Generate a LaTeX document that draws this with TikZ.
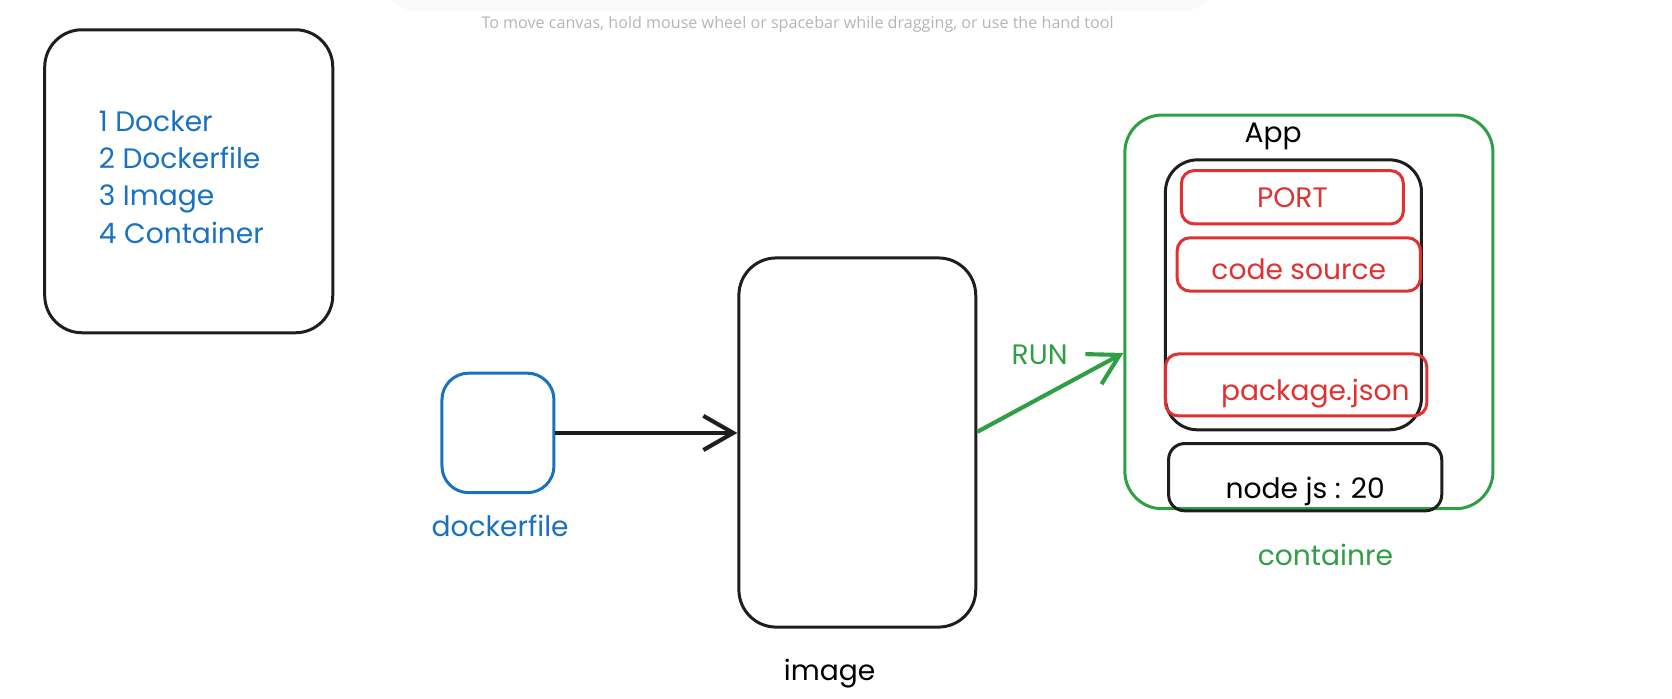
\documentclass[tikz,border=0pt]{standalone}
\usepackage{fontspec}
\setmainfont{Poppins}
\newfontfamily\hintfont{Open Sans}
\usetikzlibrary{arrows.meta,positioning}
\definecolor{exblue}{HTML}{1971C2}
\definecolor{exgreen}{HTML}{2F9E44}
\definecolor{exred}{HTML}{E03131}
\definecolor{exblack}{HTML}{1E1E1E}
\definecolor{hintgray}{HTML}{B5B5B5}

\begin{document}
\begin{tikzpicture}[x=0.01cm,y=-0.01cm,
          box/.style={draw=exblack,line width=0.8pt,rounded corners=0.35cm,inner sep=0pt},
          redbox/.style={draw=exred,line width=0.8pt,rounded corners=0.12cm,inner sep=0pt,text=exred},
          txt/.style={font=\fontsize{7.5}{9}\selectfont},
          barb/.style={line width=1.1pt,-{Straight Barb[length=2.8mm,width=3.2mm]}}]
          \useasboundingbox (0,0) rectangle (1568,655);
          \fill[black!2.5,rounded corners=0.3cm] (360,-30) rectangle (1140,10);
          \node[font=\hintfont\fontsize{4.3}{5}\selectfont,text=hintgray] (hint) at (748,23) {To move canvas, hold mouse wheel or spacebar while dragging, or use the hand tool};
          \node[box,minimum width=2.7cm,minimum height=2.84cm] (legend) at (177,170) {};
          \foreach \t [count=\i] in {Docker,Dockerfile,Image,Container}
            \node[txt,text=exblue,anchor=base west,inner sep=0pt] (step\i) at (92,88+35*\i) {\i\ \t};
          \node[box,draw=exblue,minimum width=1.05cm,minimum height=1.12cm,rounded corners=0.25cm] (df) at (467,406) {};
          \node[txt,text=exblue] (dflabel) at (469,493) {dockerfile};
          \node[box,minimum width=2.22cm,minimum height=3.46cm] (img) at (804,415) {};
          \node[txt] (imglabel) at (778,632) {image};
          \node[box,draw=exgreen,minimum width=3.45cm,minimum height=3.69cm] (cont) at (1227.5,292.5) {};
          \node[txt,text=exgreen] (contlabel) at (1243,520) {containre};
          \node[txt] (applabel) at (1194,128) {App};
          \node[box,minimum width=2.4cm,minimum height=2.53cm,rounded corners=0.3cm] (app) at (1213,276.5) {};
          \node[redbox,txt,minimum width=2.08cm,minimum height=0.5cm] (port) at (1212,185) {PORT};
          \node[redbox,txt,minimum width=2.28cm,minimum height=0.5cm,text height=0.28cm,text depth=0pt] (code) at (1218,248) {code source};
          \node[redbox,txt,minimum width=2.45cm,minimum height=0.58cm,text height=0.36cm,text depth=0.065cm] (pkg) at (1215.5,361) {\hspace*{0.36cm}package.json};
          \node[box,txt,minimum width=2.56cm,minimum height=0.63cm,rounded corners=0.15cm,text height=0.45cm,text depth=0.05cm] (nodejs) at (1224,447.5) {node js : 20};
          \draw[barb,exblack] (df.east) -- (df.east -| img.west);
          \draw[barb,exgreen] ([yshift=1mm]img.east) -- ([yshift=-3.85mm]cont.west);
          \node[txt,text=exgreen] (run) at (975,333) {RUN};
\end{tikzpicture}
\end{document}
